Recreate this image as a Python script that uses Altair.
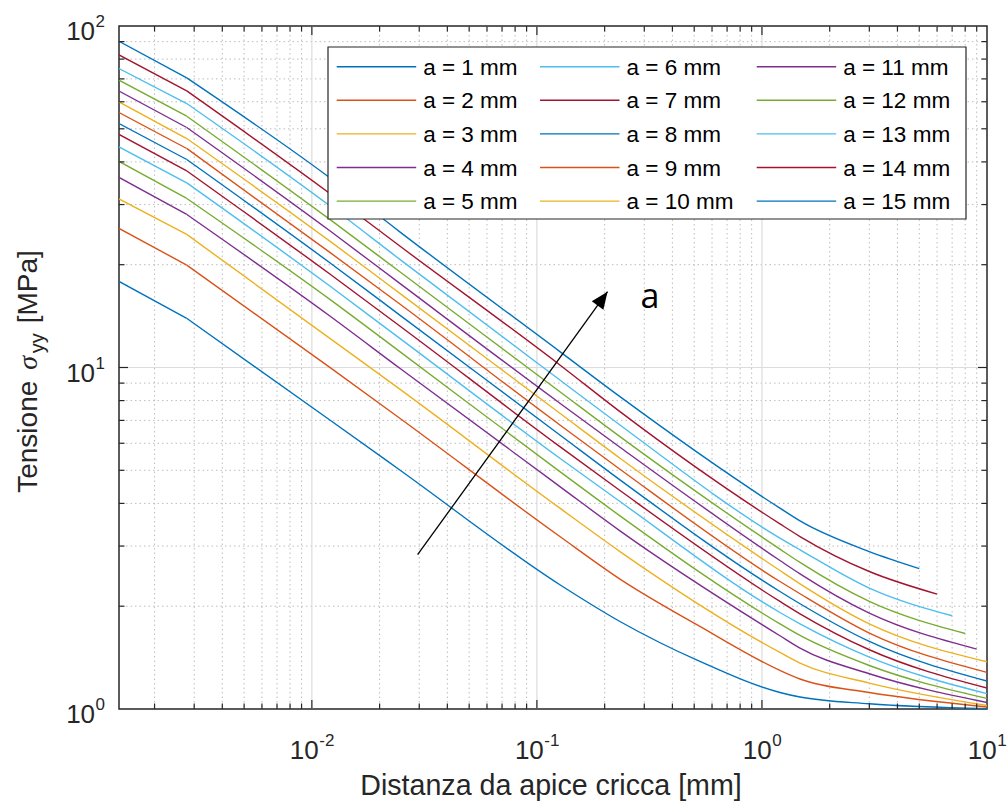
import math
import altair as alt
import pandas as pd

# ---------------- data ----------------
a_values = list(range(1, 16))
# shared sample abscissae (mm); the last point of each curve is in end_x
x_points = [0.00139, 0.00278, 0.01202, 0.02459, 0.1265, 0.2339, 0.530, 1.202, 1.476, 3.0]
end_x = [10, 10, 10, 10, 10, 10, 10, 10, 10, 10, 9, 8, 7, 6, 5]

s_a1 = [17.87, 13.93, 7.02, 5.01, 2.311, 1.804, 1.378, 1.118, 1.084, 1.036, 1.002]
s_a2 = [25.54, 19.95, 10.01, 7.10, 3.199, 2.401, 1.745, 1.297, 1.224, 1.118, 1.014]
s_a3 = [31.18, 24.53, 12.17, 8.64, 3.873, 2.891, None, 1.464, 1.363, 1.191, 1.024]
s_a4 = [36.02, 28.07, 14.15, 9.95, 4.480, 3.325, None, 1.639, 1.508, 1.268, 1.045]
s_a5 = [40.12, 31.26, 15.83, 11.13, 4.957, 3.678, None, 1.776, 1.642, 1.341, 1.074]
s_a6 = [44.26, 34.73, 17.32, 12.17, 5.425, 4.051, None, 1.917, 1.776, 1.419, 1.109]
s_a7 = [48.12, 37.65, 18.78, 13.23, 5.866, 4.362, None, 2.065, 1.900, 1.491, 1.152]
s_a8 = [51.80, 40.65, 20.26, 14.24, 6.346, 4.688, None, 2.208, 2.033, 1.577, 1.207]
s_a9 = [55.80, 43.78, 21.73, 15.34, 6.787, 5.037, None, 2.362, 2.175, 1.669, 1.280]
s_a10 = [59.95, 46.83, 23.45, 16.49, 7.345, 5.425, None, 2.544, 2.326, 1.776, 1.375]
s_a11 = [64.50, 50.44, 25.14, 17.63, 7.859, 5.842, None, 2.722, 2.488, 1.909, 1.498]
s_a12 = [69.40, 54.42, 27.14, 19.07, 8.495, 6.274, None, 2.938, 2.686, 2.065, 1.664]
s_a13 = [75.07, 59.29, 29.75, 20.73, 9.192, 6.787, None, 3.165, 2.925, 2.259, 1.875]
s_a14 = [82.30, 64.54, 32.33, 22.68, 10.17, 7.424, None, 3.484, 3.199, 2.527, 2.170]
s_a15 = [90.20, 70.46, 35.93, 24.96, 11.13, 8.215, None, 3.874, 3.555, 2.891, 2.578]
series = [s_a1, s_a2, s_a3, s_a4, s_a5, s_a6, s_a7, s_a8, s_a9, s_a10,
          s_a11, s_a12, s_a13, s_a14, s_a15]

matlab_colors = ["#0072BD", "#D95319", "#EDB120", "#7E2F8E", "#77AC30", "#4DBEEE", "#A2142F"]

x_label_vals = [0.01, 0.1, 1, 10]
x_label_exp = ["-2", "-1", "0", "1"]
y_label_vals = [1, 10, 100]
y_label_exp = ["0", "1", "2"]

x_title = "Distanza da apice cricca [mm]"
arrow_from = (0.0295, 2.83)
arrow_to = (0.206, 16.67)
arrow_text = "a"
arrow_text_pos = (0.318, 15.97)

# ---------------- layout ----------------
W, H = 868, 683
PAD = {"left": 119, "top": 26, "right": 21, "bottom": 94}
X_DOM = [0.00139, 10]
Y_DOM = [1, 100]
XS = alt.Scale(type="log", domain=X_DOM, nice=False, zero=False)
YS = alt.Scale(type="log", domain=Y_DOM, nice=False, zero=False)
AX = "#262626"
FONT = "Liberation Sans"

ARIAL = {"0": 556, "1": 556, "2": 556, "3": 556, "4": 556, "5": 556, "6": 556,
         "7": 556, "8": 556, "9": 556, "-": 333, " ": 278, "T": 611, "e": 556,
         "n": 556, "s": 500, "i": 222, "o": 556, "[": 278, "]": 278, "M": 833,
         "P": 667, "a": 556, "y": 500, "m": 833, "=": 584}


def tw(s, size):
    return sum(ARIAL.get(c, 556) for c in s) * size / 1000.0


labels = [f"a = {a} mm" for a in a_values]
colors = [matlab_colors[(a - 1) % 7] for a in a_values]

rows = []
for lab, s, xe in zip(labels, series, end_x):
    for i, (x, v) in enumerate(zip(x_points + [xe], s)):
        if v is None:
            continue
        rows.append({"a": lab, "x": x, "v": v, "i": i})
curves_df = pd.DataFrame(rows)

x_minor = [k * 10.0 ** d for d in (-3, -2, -1, 0) for k in range(2, 10)
           if X_DOM[0] < k * 10.0 ** d < X_DOM[1]]
x_major = [0.01, 0.1, 1]
y_minor = [k * 10.0 ** d for d in (0, 1) for k in range(2, 10)]
y_major = [10]

one = pd.DataFrame({"k": [0]})

layers = []

# grid
layers.append(alt.Chart(pd.DataFrame({"v": x_minor})).mark_rule(
    color="#bdbdbd", strokeDash=[1.5, 3], strokeWidth=1).encode(
    x=alt.X("v:Q", scale=XS, axis=None)))
layers.append(alt.Chart(pd.DataFrame({"v": y_minor})).mark_rule(
    color="#bdbdbd", strokeDash=[1.5, 3], strokeWidth=1).encode(
    y=alt.Y("v:Q", scale=YS, axis=None)))
layers.append(alt.Chart(pd.DataFrame({"v": x_major})).mark_rule(
    color="#dcdcdc", strokeWidth=1.2).encode(x=alt.X("v:Q", scale=XS, axis=None)))
layers.append(alt.Chart(pd.DataFrame({"v": y_major})).mark_rule(
    color="#dcdcdc", strokeWidth=1.2).encode(y=alt.Y("v:Q", scale=YS, axis=None)))

# curves: first (straight) segment, then the smooth remainder
color_enc = alt.Color("a:N", scale=alt.Scale(domain=labels, range=colors), legend=None)
layers.append(alt.Chart(curves_df[curves_df["i"] <= 1]).mark_line(strokeWidth=1.4, clip=True).encode(
    x=alt.X("x:Q", scale=XS, axis=None),
    y=alt.Y("v:Q", scale=YS, axis=None),
    color=color_enc, order=alt.Order("i:Q"),
))
layers.append(alt.Chart(curves_df[curves_df["i"] >= 1]).mark_line(
    strokeWidth=1.4, clip=True, interpolate="monotone").encode(
    x=alt.X("x:Q", scale=XS, axis=None),
    y=alt.Y("v:Q", scale=YS, axis=None),
    color=color_enc, order=alt.Order("i:Q"),
))

# arrow annotation
arrow_df = pd.DataFrame({"x": [arrow_from[0], arrow_to[0]], "v": [arrow_from[1], arrow_to[1]]})
layers.append(alt.Chart(arrow_df).mark_line(color="black", strokeWidth=1.3).encode(
    x=alt.X("x:Q", scale=XS, axis=None), y=alt.Y("v:Q", scale=YS, axis=None)))
pxd_x = W / math.log10(X_DOM[1] / X_DOM[0])
pxd_y = H / math.log10(Y_DOM[1] / Y_DOM[0])
ddx = pxd_x * math.log10(arrow_to[0] / arrow_from[0])
ddy = pxd_y * math.log10(arrow_to[1] / arrow_from[1])
ang = math.degrees(math.atan2(ddx, ddy))
head_df = pd.DataFrame({"x": [arrow_to[0]], "v": [arrow_to[1]]})
layers.append(alt.Chart(head_df).mark_point(
    shape="M0,0 L0.42,1 L-0.42,1 Z", size=1156, filled=True, color="black",
    opacity=1, angle=ang, strokeWidth=0).encode(
    x=alt.X("x:Q", scale=XS, axis=None), y=alt.Y("v:Q", scale=YS, axis=None)))
layers.append(alt.Chart(pd.DataFrame({"x": [arrow_text_pos[0]], "v": [arrow_text_pos[1]], "t": [arrow_text]})).mark_text(
    font="Open Sans", fontSize=34, color="black", align="center", baseline="middle").encode(
    x=alt.X("x:Q", scale=XS, axis=None), y=alt.Y("v:Q", scale=YS, axis=None), text="t:N"))

# legend (column-major, 3 columns x 5 rows)
LX0, LY0, LX1, LY1 = 209, 21, 847, 193
col_x = [217.7, 421.0, 637.7]
row_y0, row_dy = 40.7, 33.6
leg_rows = []
for idx, (lab, col) in enumerate(zip(labels, colors)):
    c, r = idx // 5, idx % 5
    yy = row_y0 + r * row_dy
    leg_rows.append({"lab": lab, "col": col, "lx": col_x[c], "lx2": col_x[c] + 79.5,
                     "tx": col_x[c] + 86.5, "ly": yy, "ty": yy + 8.0})
leg_df = pd.DataFrame(leg_rows)
layers.append(alt.Chart(one).mark_rect(fill="white", stroke=AX, strokeWidth=1.2).encode(
    x=alt.value(LX0), x2=alt.value(LX1), y=alt.value(LY0), y2=alt.value(LY1)))
layers.append(alt.Chart(leg_df).mark_rule(strokeWidth=1.4).encode(
    x=alt.X("lx:Q", scale=None), x2="lx2:Q", y=alt.Y("ly:Q", scale=None),
    color=alt.Color("col:N", scale=None)))
layers.append(alt.Chart(leg_df).mark_text(font=FONT, fontSize=22.5, color="black",
                                          align="left", baseline="alphabetic").encode(
    x=alt.X("tx:Q", scale=None), y=alt.Y("ty:Q", scale=None), text="lab:N"))

# ticks (inward, all four sides)
TM, Tm = 9, 5.5
for vals, ln in ((x_major, TM), (x_minor, Tm)):
    d = pd.DataFrame({"v": vals})
    layers.append(alt.Chart(d).mark_rule(color=AX, strokeWidth=1.2).encode(
        x=alt.X("v:Q", scale=XS, axis=None), y=alt.value(H), y2=alt.value(H - ln)))
    layers.append(alt.Chart(d).mark_rule(color=AX, strokeWidth=1.2).encode(
        x=alt.X("v:Q", scale=XS, axis=None), y=alt.value(0), y2=alt.value(ln)))
for vals, ln in ((y_major, TM), (y_minor, Tm)):
    d = pd.DataFrame({"v": vals})
    layers.append(alt.Chart(d).mark_rule(color=AX, strokeWidth=1.2).encode(
        y=alt.Y("v:Q", scale=YS, axis=None), x=alt.value(0), x2=alt.value(ln)))
    layers.append(alt.Chart(d).mark_rule(color=AX, strokeWidth=1.2).encode(
        y=alt.Y("v:Q", scale=YS, axis=None), x=alt.value(W), x2=alt.value(W - ln)))

# tick labels: "10" with a raised exponent
FB, FE = 26, 17
bw = tw("10", FB)
xl_df = pd.DataFrame({"v": x_label_vals, "e": x_label_exp, "b": ["10"] * 4})
for neg in (True, False):
    sub = xl_df[xl_df["e"].str.startswith("-") == neg]
    ew = tw(sub["e"].iloc[0], FE)
    dxb = (bw - ew) / 2
    layers.append(alt.Chart(sub).mark_text(font=FONT, fontSize=FB, color=AX, align="right",
                                           baseline="alphabetic", dx=dxb).encode(
        x=alt.X("v:Q", scale=XS, axis=None), y=alt.value(H + 50), text="b:N"))
    layers.append(alt.Chart(sub).mark_text(font=FONT, fontSize=FE, color=AX, align="left",
                                           baseline="alphabetic", dx=dxb + 0.5).encode(
        x=alt.X("v:Q", scale=XS, axis=None), y=alt.value(H + 37), text="e:N"))

yl_df = pd.DataFrame({"v": y_label_vals, "e": y_label_exp, "b": ["10"] * 3})
ewy = tw("0", FE)
layers.append(alt.Chart(yl_df).mark_text(font=FONT, fontSize=FB, color=AX, align="right",
                                         baseline="alphabetic", dy=14.3).encode(
    y=alt.Y("v:Q", scale=YS, axis=None), x=alt.value(-14 - ewy - 0.5), text="b:N"))
layers.append(alt.Chart(yl_df).mark_text(font=FONT, fontSize=FE, color=AX, align="right",
                                         baseline="alphabetic", dy=1).encode(
    y=alt.Y("v:Q", scale=YS, axis=None), x=alt.value(-14), text="e:N"))

# x title
layers.append(alt.Chart(pd.DataFrame({"t": [x_title]})).mark_text(
    font=FONT, fontSize=28.6, color=AX, align="center", baseline="alphabetic").encode(
    x=alt.value(W / 2 - 2), y=alt.value(H + 86), text="t:N"))

# y title: "Tensione σ_yy [MPa]" rotated, built from pieces (gaps advanced explicitly)
FT, FS = 28, 20
sp = tw(" ", FT)
seg = [("Tensione", FONT, FT, "normal", 0, tw("Tensione", FT) + sp),
       ("σ", "Liberation Serif", FT, "italic", 0, 0.56 * FT + 1),
       ("yy", FONT, FS, "normal", 7, tw("yy", FS) + sp + 2),
       ("[MPa]", FONT, FT, "normal", 0, tw("[MPa]", FT))]
total = sum(s[5] for s in seg)
ystart = (H / 2 + 4) + total / 2
XB = -82
for text, fnt, size, style, shift, w in seg:
    layers.append(alt.Chart(pd.DataFrame({"t": [text]})).mark_text(
        font=fnt, fontSize=size, fontStyle=style, color=AX, angle=270, align="left",
        baseline="alphabetic").encode(
        x=alt.value(XB + shift), y=alt.value(ystart), text="t:N"))
    ystart -= w

chart = alt.layer(*layers).properties(
    width=W, height=H, padding=PAD, autosize=alt.AutoSizeParams(type="none"),
    background="white",
).configure_view(stroke=AX, strokeWidth=1.5)

chart.save("out.html", embed_options={"renderer": "svg", "actions": False})
